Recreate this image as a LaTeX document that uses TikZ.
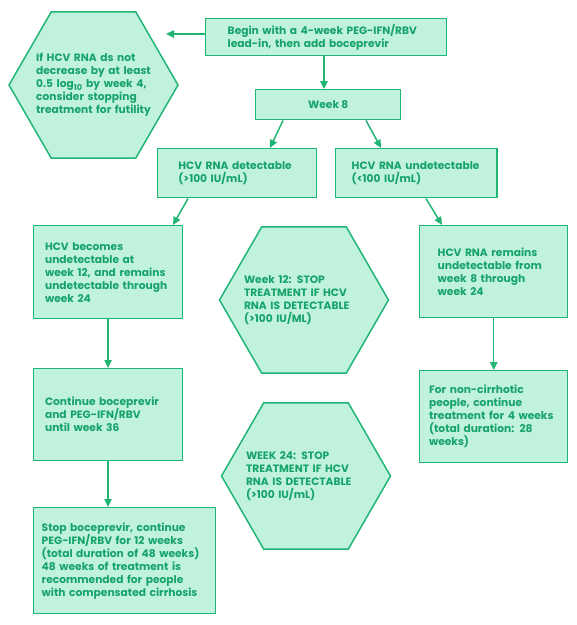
\documentclass[tikz,border=0pt]{standalone}
\usepackage{fontspec}
\setmainfont{Poppins}
\usetikzlibrary{arrows.meta,calc,shapes.geometric}
\definecolor{mint}{HTML}{C0F2DD}
\definecolor{leaf}{HTML}{1FB572}
\definecolor{leaftext}{HTML}{16A36A}

\begin{document}
\begin{tikzpicture}[x=0.75pt,y=-0.75pt,>={Triangle[length=6pt,width=5.5pt]},
  box/.style={draw=leaf,fill=mint,line width=1.1pt,text=leaftext,
    font=\fontsize{8}{9.75}\selectfont\bfseries,align=left,
    anchor=north west,inner ysep=0pt},
  hexa/.style={regular polygon,regular polygon sides=6,draw=leaf,fill=mint,
    line width=1.1pt,text=leaftext,font=\fontsize{8}{9.75}\selectfont\bfseries,
    align=left,inner sep=-30pt,minimum size=126.75pt},
  arr/.style={->,draw=leaf,line width=1.1pt}]
  \useasboundingbox (0,0) rectangle (577,625);

  % top row
  \node[box,text width=147.75pt,inner xsep=16.5pt,minimum height=27.75pt]
    (start) at (205,18) {Begin with a 4-week PEG-IFN/RBV\\lead-in, then add boceprevir};
  \node[hexa,text width=86pt] (futile) at (93.5,85)
    {If HCV RNA ds not\\decrease by at least\\0.5 log\textsubscript{10} by week 4,\\consider stopping\\treatment for futility};
  \coordinate (futtip) at (166,34);
  \node[box,align=center,minimum width=108.75pt,minimum height=22.5pt]
    (wk8) at (255,89) {Week 8};

  % week 8 results
  \node[box,text width=88pt,inner xsep=15.5pt,minimum height=36.75pt]
    (det) at (157,148) {HCV RNA detectable\\(>100 IU/mL)};
  \node[box,text width=97pt,inner xsep=12pt,minimum height=36.75pt]
    (undet) at (335,148) {HCV RNA undetectable\\(<100 IU/mL)};

  % left branch
  \node[box,text width=94.5pt,inner xsep=8.5pt,minimum height=69.75pt]
    (becomes) at (33,225) {HCV becomes\\undetectable at\\week 12, and remains\\undetectable through\\week 24};
  \node[box,text width=94.5pt,inner xsep=8.5pt,minimum height=69pt]
    (contin) at (33,368) {Continue boceprevir\\and PEG-IFN/RBV\\until week 36};
  \node[box,text width=124.5pt,inner xsep=6pt,minimum height=79.5pt]
    (stopboc) at (33,507) {Stop boceprevir, continue\\PEG-IFN/RBV for 12 weeks\\(total duration of 48 weeks)\\48 weeks of treatment is\\recommended for people\\with compensated cirrhosis};

  % stopping rules
  \node[hexa,text width=90pt] (rule12) at (304,300)
    {Week 12: STOP\\TREATMENT IF HCV\\RNA IS DETECTABLE\\(>100 IU/ML)};
  \node[hexa,text width=90pt] (rule24) at (306,476)
    {WEEK 24: STOP\\TREATMENT IF HCV\\RNA IS DETECTABLE\\(>100 IU/mL)};

  % right branch
  \node[box,text width=84pt,inner xsep=13.5pt,minimum height=69pt]
    (remains) at (419,225) {HCV RNA remains\\undetectable from\\week 8 through\\week 24};
  \node[box,text width=97pt,inner xsep=7pt,minimum height=69pt]
    (noncirr) at (419,370) {For non-cirrhotic\\people, continue\\treatment for 4 weeks\\(total duration: 28\\weeks)};

  % connectors
  \draw[arr] (start.west |- futtip) -- (futtip);
  \draw[arr] ($(start.south west)+(119,0)$) -- ($(wk8.north west)+(69,0)$);
  \draw[arr] ($(wk8.south west)+(28,0)$) -- ($(det.north west)+(113,0)$);
  \draw[arr] ($(wk8.south west)+(111,0)$) -- ($(undet.north west)+(46,0)$);
  \draw[arr] ($(det.south west)+(31,0)$) -- ($(becomes.north west)+(140,0)$);
  \draw[arr] ($(undet.south west)+(91,0)$) -- ($(remains.north west)+(23,0)$);
  \draw[arr] (becomes.south) -- (contin.north);
  \draw[arr] (contin.south) -- (contin.south |- stopboc.north);
  \draw[arr] (remains.south) -- (noncirr.north);
\end{tikzpicture}
\end{document}
